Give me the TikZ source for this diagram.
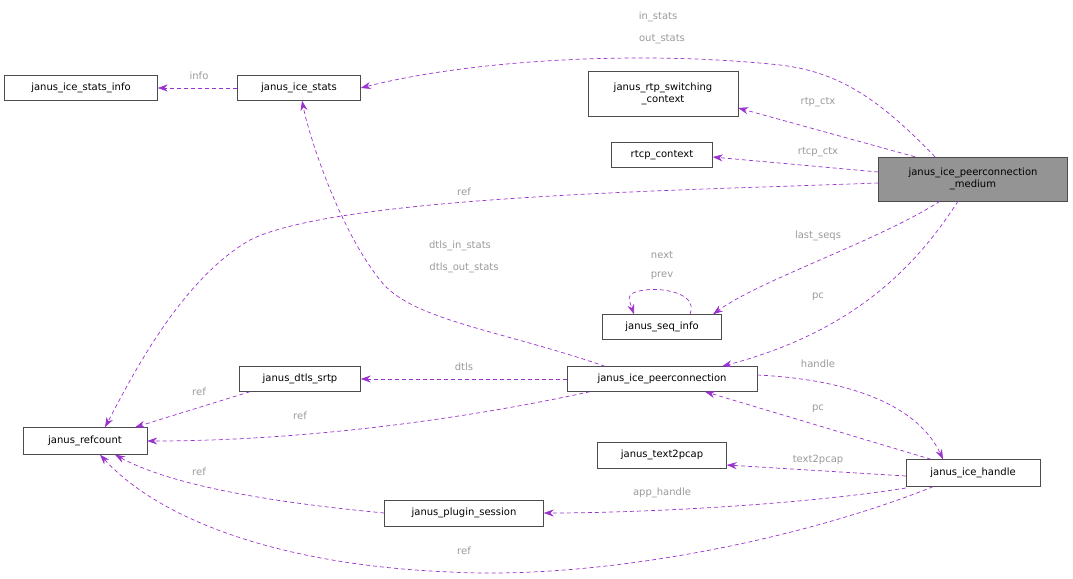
\documentclass[tikz,border=0pt]{standalone}
\usepackage{fontspec}
\setmainfont{DejaVu Sans}
\usetikzlibrary{arrows.meta}
\definecolor{edge}{HTML}{9A32CD}
\definecolor{lbl}{HTML}{9A9A9A}
\begin{document}
\begin{tikzpicture}[x=1pt,y=-1pt,
  box/.style={draw=black!70,fill=white,inner sep=0pt,align=center,font=\fontsize{10}{12}\selectfont},
  e/.style={draw=edge,dashed,dash pattern=on 4pt off 3pt,line width=0.7pt,-{Stealth[length=10pt,width=7pt]}},
  l/.style={text=lbl,font=\fontsize{10}{12}\selectfont,inner sep=0pt}]
\useasboundingbox (0,0) rectangle (1073,578);
\node[box,minimum width=153pt,minimum height=25pt] (info) at (81,88) {janus\_ice\_stats\_info};
\node[box,minimum width=123pt,minimum height=25pt] (stats) at (299,88) {janus\_ice\_stats};
\node[box,minimum width=150pt,minimum height=45pt] (rtp) at (663,94) {janus\_rtp\_switching\\\_context};
\node[box,minimum width=101pt,minimum height=25pt] (rtcp) at (662,155) {rtcp\_context};
\node[box,fill=black!42,minimum width=189pt,minimum height=44pt] (med) at (973,179) {janus\_ice\_peerconnection\\\_medium};
\node[box,minimum width=119pt,minimum height=25pt] (seq) at (662,327) {janus\_seq\_info};
\node[box,minimum width=121pt,minimum height=25pt] (dtls) at (300,379) {janus\_dtls\_srtp};
\node[box,minimum width=190pt,minimum height=25pt] (pc) at (662,379) {janus\_ice\_peerconnection};
\node[box,minimum width=124pt,minimum height=27pt] (ref) at (85,441) {janus\_refcount};
\node[box,minimum width=129pt,minimum height=26pt] (t2p) at (662,455) {janus\_text2pcap};
\node[box,minimum width=134pt,minimum height=27pt] (h) at (973,473) {janus\_ice\_handle};
\node[box,minimum width=159pt,minimum height=26pt] (ps) at (464,513) {janus\_plugin\_session};

\draw[e] ([xshift=-38pt]med.north) .. controls (880,100) and (840,72) .. (780,65) .. controls (640,50) and (470,60) .. (stats.east);
\node[l] at (658,17) {in\_stats};
\node[l] at (662,39) {out\_stats};
\draw[e] ([xshift=-58pt]med.north) -- (rtp.east |- 0,108);
\node[l] at (818,102) {rtp\_ctx};
\draw[e] (med.west |- 0,172) -- (rtcp.east |- 0,157);
\node[l] at (818,152) {rtcp\_ctx};
\draw[e] (med.west |- 0,183) .. controls (700,190) and (340,195) .. (250,240) .. controls (180,280) and (130,380) .. ([xshift=20pt]ref.north);
\node[l] at (464,192) {ref};
\draw[e] ([xshift=-33pt]med.south) .. controls (880,240) and (760,280) .. ([xshift=51pt]seq.north);
\node[l] at (818,236) {last\_seqs};
\draw[e] ([xshift=-15pt]med.south) .. controls (920,260) and (860,330) .. ([xshift=60pt]pc.north);
\node[l] at (818,297) {pc};
\draw[e] ([xshift=28pt]seq.north) .. controls (700,290) and (650,285) .. (633,293) .. controls (628,297) .. ([xshift=-28pt]seq.north);
\node[l] at (662,255) {next};
\node[l] at (662,276) {prev};
\draw[e] (stats.west) -- (info.east);
\node[l] at (199,76) {info};
\draw[e] ([xshift=-57pt]pc.north) .. controls (500,330) and (410,320) .. (380,280) .. controls (340,230) and (310,140) .. ([xshift=3pt]stats.south);
\node[l] at (460,246) {dtls\_in\_stats};
\node[l] at (464,268) {dtls\_out\_stats};
\draw[e] (pc.west) -- (dtls.east);
\node[l] at (464,367) {dtls};
\draw[e] ([xshift=-72pt]pc.south) .. controls (460,420) and (300,441) .. (ref.east);
\node[l] at (300,416) {ref};
\draw[e] ([xshift=-50pt]dtls.south) -- ([xshift=50pt]ref.north);
\node[l] at (199,392) {ref};
\draw[e] (pc.east |- 0,375) .. controls (860,380) and (920,410) .. ([xshift=-30pt]h.north);
\node[l] at (818,364) {handle};
\draw[e] ([xshift=-42pt]h.north) -- ([xshift=43pt]pc.south);
\node[l] at (818,409) {pc};
\draw[e] (h.west |- 0,476) -- (t2p.east |- 0,465);
\node[l] at (818,460) {text2pcap};
\draw[e] (h.west |- 0,488) .. controls (800,505) and (640,513) .. (ps.east);
\node[l] at (662,493) {app\_handle};
\draw[e] (ps.west) .. controls (300,505) and (180,490) .. ([xshift=30pt]ref.south);
\node[l] at (199,472) {ref};
\draw[e] ([xshift=-40pt]h.south) .. controls (800,540) and (600,580) .. (450,572) .. controls (280,565) and (160,520) .. ([xshift=15pt]ref.south);
\node[l] at (464,551) {ref};
\end{tikzpicture}
\end{document}
